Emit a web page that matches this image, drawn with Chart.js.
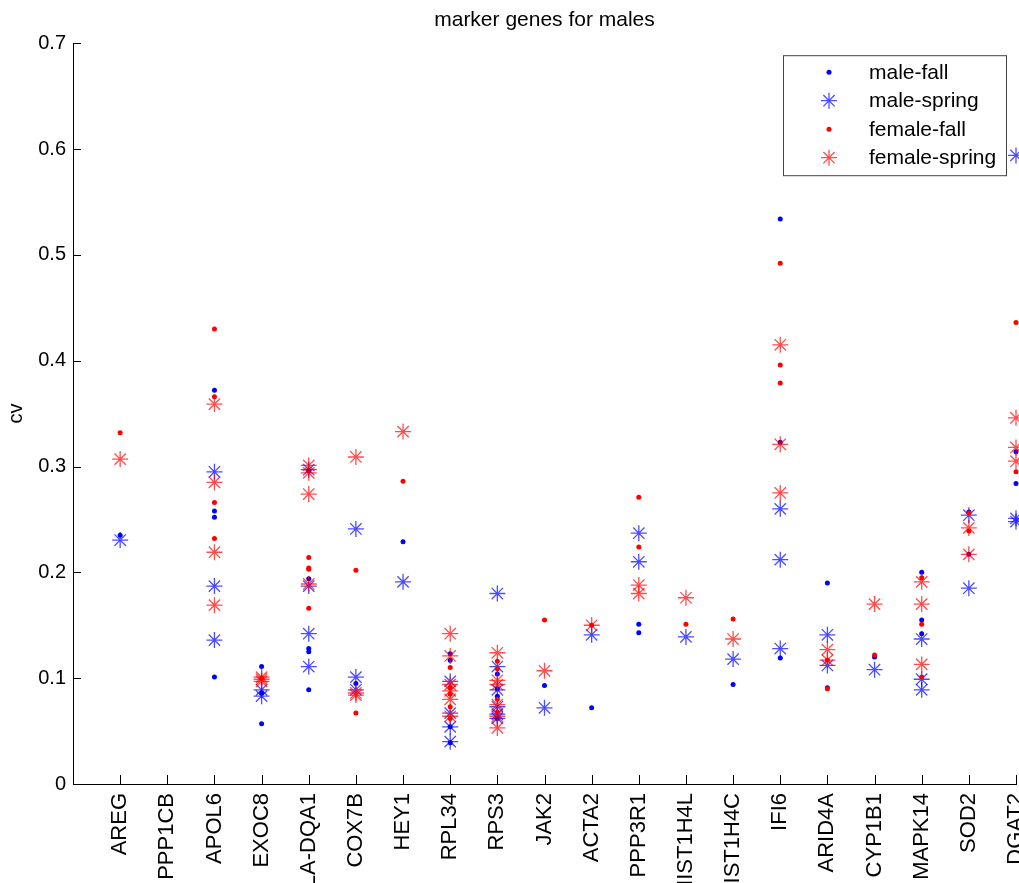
<!DOCTYPE html>
<html>
<head>
<meta charset="utf-8">
<title>marker genes for males</title>
<script src="https://cdn.jsdelivr.net/npm/chart.js@4.4.1/dist/chart.umd.min.js"></script>
<style>
  html, body { margin: 0; padding: 0; background: #fff; overflow: hidden; }
  #chartContainer { position: relative; width: 1019px; height: 883px; }
</style>
</head>
<body>
<div id="chartContainer"><canvas id="myChart"></canvas></div>
<script>
const genes = [
  "AREG", "PPP1CB", "APOL6", "EXOC8", "HLA-DQA1", "COX7B", "HEY1", "RPL34", "RPS3", "JAK2",
  "ACTA2", "PPP3R1", "HIST1H4L", "HIST1H4C", "IFI6", "ARID4A", "CYP1B1", "MAPK14", "SOD2", "DGAT2",
];
const yTickLabels = ["0", "0.1", "0.2", "0.3", "0.4", "0.5", "0.6", "0.7"];

// cv values per gene (one list per gene, same order as genes)
const maleFall = [
  [0.235], [], [0.372, 0.258, 0.252, 0.101], [0.111, 0.086, 0.057], [0.296, 0.194, 0.128, 0.125, 0.089],
  [0.095], [0.229], [0.123, 0.117, 0.054, 0.039], [0.104, 0.090, 0.083, 0.062], [0.093],
  [0.072], [0.151, 0.143], [], [0.094], [0.534, 0.323, 0.119],
  [0.190, 0.091], [0.120], [0.200, 0.155, 0.142], [0.257, 0.217], [0.314, 0.284],
];
const maleSpring = [
  [0.2305], [], [0.295, 0.187, 0.136], [0.089, 0.083], [0.297, 0.187, 0.142, 0.111],
  [0.241, 0.101, 0.089], [0.191], [0.097, 0.067, 0.054, 0.040], [0.180, 0.111, 0.089, 0.073, 0.066, 0.062], [0.072],
  [0.141], [0.237, 0.210], [0.139], [0.118], [0.260, 0.212, 0.128],
  [0.141, 0.112], [0.108], [0.137, 0.099, 0.089], [0.254, 0.185], [0.594, 0.251, 0.248],
];
const femaleFall = [
  [0.332], [], [0.430, 0.366, 0.266, 0.232], [0.100], [0.214, 0.204, 0.203, 0.166],
  [0.202, 0.067], [0.286], [0.110, 0.091, 0.085, 0.073, 0.062], [0.116, 0.109, 0.080, 0.068], [0.155],
  [0.150], [0.271, 0.224], [0.151], [0.156], [0.492, 0.396, 0.379],
  [0.117, 0.090], [0.122], [0.195, 0.151, 0.101], [0.256, 0.239], [0.436, 0.295],
];
const femaleSpring = [
  [0.307], [], [0.359, 0.285, 0.219, 0.169], [0.101, 0.099, 0.097], [0.301, 0.294, 0.274, 0.189],
  [0.309, 0.086, 0.084], [0.333], [0.142, 0.121, 0.094, 0.088, 0.080, 0.064], [0.124, 0.098, 0.094, 0.075, 0.064, 0.053], [0.107],
  [0.150], [0.188, 0.180], [0.176], [0.137], [0.415, 0.321, 0.275],
  [0.127, 0.117], [0.170], [0.191, 0.170, 0.113], [0.242, 0.217], [0.346, 0.318, 0.305],
];

const FONT = "'Liberation Sans', Arial, sans-serif";
Chart.defaults.font.family = FONT;
Chart.defaults.color = "#000";

function toPoints(values) {
  return values.flatMap((list, i) => list.map((v) => ({ x: i + 1, y: v })));
}

// MATLAB style ticks pointing into the axes
const innerTicks = {
  id: "innerTicks",
  afterDatasetsDraw(chart) {
    const { ctx, chartArea, scales } = chart;
    ctx.save();
    ctx.strokeStyle = "#000";
    ctx.lineWidth = 1;
    ctx.beginPath();
    scales.x.ticks.forEach((t) => {
      const px = Math.round(scales.x.getPixelForValue(t.value)) + 0.5;
      ctx.moveTo(px, chartArea.bottom);
      ctx.lineTo(px, chartArea.bottom - 9);
    });
    scales.y.ticks.forEach((t) => {
      const py = Math.round(scales.y.getPixelForValue(t.value)) + 0.5;
      ctx.moveTo(chartArea.left, py);
      ctx.lineTo(chartArea.left + 8, py);
    });
    ctx.stroke();
    ctx.restore();
  },
};

// boxed legend in the upper right corner of the axes
const boxLegend = {
  id: "boxLegend",
  afterDraw(chart) {
    const { ctx, chartArea } = chart;
    const w = 223, h = 120;
    const left = chartArea.right - 10 - w;
    const top = chartArea.top + 12;
    ctx.save();
    ctx.fillStyle = "#fff";
    ctx.fillRect(left, top, w, h);
    ctx.strokeStyle = "#444";
    ctx.lineWidth = 1;
    ctx.strokeRect(left + 0.5, top + 0.5, w, h);
    ctx.font = "21px " + FONT;
    ctx.textBaseline = "middle";
    chart.data.datasets.forEach((ds, i) => {
      const y = top + 17 + i * 28.5;
      ctx.fillStyle = ds.backgroundColor;
      ctx.strokeStyle = ds.borderColor;
      ctx.lineWidth = ds.borderWidth;
      Chart.helpers.drawPoint(ctx, {
        pointStyle: ds.pointStyle,
        radius: ds.pointRadius,
        borderWidth: ds.borderWidth,
        rotation: 0,
      }, left + 46, y);
      ctx.fillStyle = "#000";
      ctx.fillText(ds.label, left + 86, y + 1);
    });
    ctx.restore();
  },
};

const dot = (color) => ({
  pointStyle: "circle",
  pointRadius: 2.5,
  backgroundColor: color,
  borderColor: color,
  borderWidth: 0,
});
const star = (color) => ({
  pointStyle: "star",
  pointRadius: 8,
  backgroundColor: color,
  borderColor: color,
  borderWidth: 1.3,
});

const ctx = document.getElementById("myChart").getContext("2d");

new Chart(ctx, {
  type: "scatter",
  data: {
    datasets: [
      { label: "male-fall", data: toPoints(maleFall), order: 3, clip: false, ...dot("#0000ff") },
      { label: "male-spring", data: toPoints(maleSpring), order: 2, clip: false, ...star("rgba(0,0,255,0.7)") },
      { label: "female-fall", data: toPoints(femaleFall), order: 1, clip: false, ...dot("#ff0000") },
      { label: "female-spring", data: toPoints(femaleSpring), order: 0, clip: false, ...star("rgba(255,0,0,0.7)") },
    ],
  },
  options: {
    responsive: true,
    maintainAspectRatio: false,
    animation: false,
    events: [],
    layout: { autoPadding: false, padding: { top: 0, right: 3, bottom: 0, left: 0 } },
    plugins: {
      legend: { display: false },
      tooltip: { enabled: false },
      title: {
        display: true,
        text: "marker genes for males",
        color: "#000",
        fullSize: false,
        font: { size: 21, weight: "normal" },
        padding: { top: 8, bottom: 10 },
      },
    },
    scales: {
      x: {
        type: "linear",
        min: 0,
        max: 20,
        afterBuildTicks: (scale) => {
          scale.ticks = genes.map((g, i) => ({ value: i + 1 }));
        },
        afterFit: (scale) => {
          scale.height = 99;
          scale.paddingLeft = 0;
          scale.paddingRight = 0;
        },
        ticks: {
          autoSkip: false,
          minRotation: 90,
          maxRotation: 90,
          padding: 9,
          color: "#000",
          font: { size: 22 },
          callback: (value) => genes[value - 1],
        },
        grid: { drawOnChartArea: false, drawTicks: false },
        border: { color: "#000", width: 1 },
      },
      y: {
        min: 0,
        max: 0.7,
        afterBuildTicks: (scale) => {
          scale.ticks = yTickLabels.map((t) => ({ value: Number(t) }));
        },
        afterFit: (scale) => {
          scale.width = 73;
        },
        ticks: {
          padding: 7,
          color: "#000",
          font: { size: 20 },
          callback: (value, index) => yTickLabels[index],
        },
        title: {
          display: true,
          text: "cv",
          color: "#000",
          font: { size: 20 },
          padding: { top: 4, bottom: 0 },
        },
        grid: { drawOnChartArea: false, drawTicks: false },
        border: { color: "#000", width: 1 },
      },
    },
  },
  plugins: [innerTicks, boxLegend],
});
</script>
</body>
</html>
